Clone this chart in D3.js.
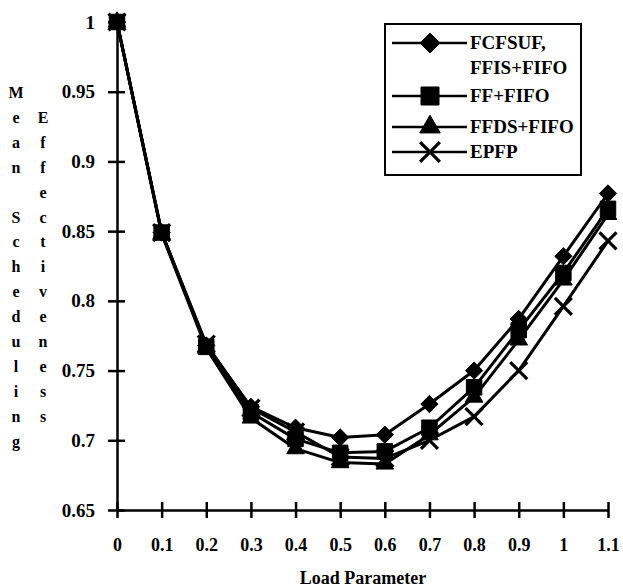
<!DOCTYPE html>
<html>
<head>
<meta charset="utf-8">
<script src="https://cdn.jsdelivr.net/npm/d3@7"></script>
<style>
  body { margin: 0; background: #fff; }
</style>
</head>
<body>
<svg id="chart" width="623" height="587"></svg>
<script>
// === DATA ===
const loadParams = [0, 0.1, 0.2, 0.3, 0.4, 0.5, 0.6, 0.7, 0.8, 0.9, 1.0, 1.1];
const fcfsuf = [1, 0.849, 0.768, 0.724, 0.709, 0.702, 0.704, 0.726, 0.750, 0.787, 0.832, 0.877];
const ffFifo = [1, 0.849, 0.767, 0.720, 0.701, 0.691, 0.692, 0.709, 0.738, 0.779, 0.820, 0.866];
const ffdsFifo = [1, 0.848, 0.766, 0.716, 0.694, 0.684, 0.683, 0.704, 0.731, 0.772, 0.815, 0.862];
const epfp = [1, 0.849, 0.769, 0.723, 0.706, 0.688, 0.687, 0.700, 0.717, 0.750, 0.796, 0.843];
const seriesNames = [["FCFSUF,", "FFIS+FIFO"], ["FF+FIFO"], ["FFDS+FIFO"], ["EPFP"]];
const xTicks = [0, 0.1, 0.2, 0.3, 0.4, 0.5, 0.6, 0.7, 0.8, 0.9, 1, 1.1];
const yTicks = [0.65, 0.7, 0.75, 0.8, 0.85, 0.9, 0.95, 1];
const yTitleLeft = "Mean Scheduling";
const yTitleRight = "Effectiveness";

const FONT = "'Liberation Serif', 'DejaVu Serif', serif";

// === SETUP ===
const svg = d3.select("#chart");
const x = d3.scaleLinear().domain([0, 1.1]).range([117, 608]);
const y = d3.scaleLinear().domain([0.65, 1]).range([510, 22]);

const series = [
  { name: seriesNames[0], values: fcfsuf, symbol: d3.symbolDiamond2, size: 190, fill: true },
  { name: seriesNames[1], values: ffFifo, symbol: d3.symbolSquare, size: 240, fill: true },
  { name: seriesNames[2], values: ffdsFifo, symbol: d3.symbolTriangle, size: 135, fill: true },
  { name: seriesNames[3], values: epfp, symbol: d3.symbolTimes, size: 190, fill: false }
];

function label(sel, size) {
  return sel.attr("font-family", FONT).style("font-family", FONT).style("font-weight", "bold")
    .style("font-size", size + "px").attr("fill", "#000");
}

// === AXES ===
const yAxis = d3.axisLeft(y).tickValues(yTicks).tickSize(0).tickPadding(22)
  .tickFormat(d => d === 1 ? "1" : String(+d.toFixed(2)));
const gy = svg.append("g").attr("transform", "translate(" + x(0) + ",0)").call(yAxis);
gy.attr("font-family", null);
gy.select(".domain").attr("stroke", "#000").attr("stroke-width", 2.5);
label(gy.selectAll(".tick text"), 19);
gy.selectAll(".tick").append("line").attr("x1", -9).attr("x2", 8).attr("stroke", "#000").attr("stroke-width", 2.5);

const xAxis = d3.axisBottom(x).tickValues(xTicks).tickSize(0).tickPadding(28)
  .tickFormat(d => String(+d.toFixed(1)));
const gx = svg.append("g").attr("transform", "translate(0," + y(0.65) + ")").call(xAxis);
gx.attr("font-family", null);
gx.select(".domain").attr("stroke", "#000").attr("stroke-width", 2.5);
label(gx.selectAll(".tick text"), 18);
gx.selectAll(".tick").append("line").attr("y1", -8).attr("y2", 8).attr("stroke", "#000").attr("stroke-width", 2.5);

// axis titles
label(svg.append("text").attr("x", 363).attr("y", 584).attr("text-anchor", "middle"), 18).text("Load Parameter");

const rowStep = 24.9;
yTitleLeft.split("").forEach((ch, i) => {
  label(svg.append("text").attr("x", 16).attr("y", 98 + i * rowStep).attr("text-anchor", "middle"), 16).text(ch);
});
yTitleRight.split("").forEach((ch, i) => {
  label(svg.append("text").attr("x", 43).attr("y", 98 + (i + 1) * rowStep).attr("text-anchor", "middle"), 16).text(ch);
});

// === SERIES ===
const line = d3.line().x((d, i) => x(loadParams[i])).y(d => y(d));

function drawSymbol(g, s, cx, cy, k) {
  const p = g.append("path")
    .attr("d", d3.symbol().type(s.symbol).size(s.size * k)())
    .attr("transform", "translate(" + cx + "," + cy + ")");
  if (s.fill) {
    p.attr("fill", "#000").attr("stroke", "#000").attr("stroke-width", 1);
  } else {
    p.attr("fill", "none").attr("stroke", "#000").attr("stroke-width", 3.2);
  }
}

series.forEach(s => {
  const g = svg.append("g");
  g.append("path").datum(s.values).attr("d", line)
    .attr("fill", "none").attr("stroke", "#000").attr("stroke-width", 3).attr("stroke-linejoin", "round");
  s.values.forEach((v, i) => drawSymbol(g, s, x(loadParams[i]), y(v), 1));
});

// === LEGEND ===
const legend = svg.append("g");
legend.append("rect").attr("x", 385).attr("y", 24).attr("width", 196).attr("height", 151)
  .attr("fill", "#fff").attr("stroke", "#000").attr("stroke-width", 2);
const legendY = [43, 96, 127, 152];
series.forEach((s, i) => {
  const ly = legendY[i];
  legend.append("line").attr("x1", 392).attr("x2", 467).attr("y1", ly).attr("y2", ly)
    .attr("stroke", "#000").attr("stroke-width", 2.5);
  drawSymbol(legend, s, 430, ly, 1.35);
  s.name.forEach((t, j) => {
    label(legend.append("text").attr("x", 470).attr("y", ly + 6 + j * 25), 19).text(t);
  });
});
</script>
</body>
</html>
